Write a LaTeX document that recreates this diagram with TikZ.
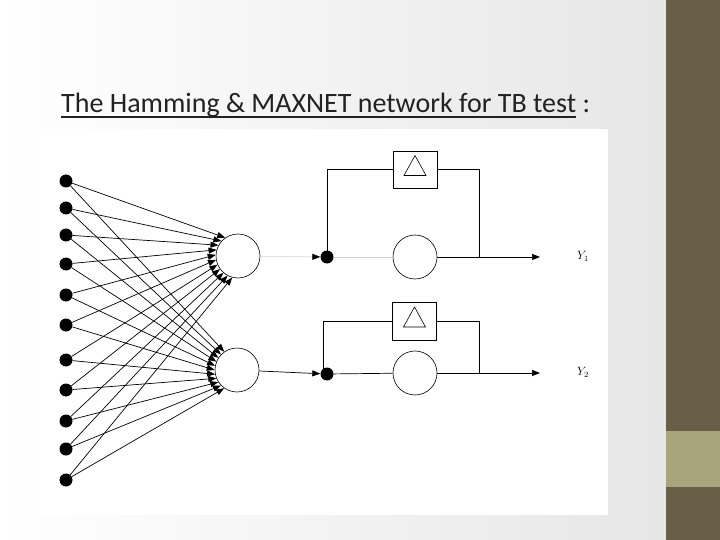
\documentclass[tikz,border=0pt]{standalone}
\usepackage{fontspec}
\setmainfont{Carlito}
\usetikzlibrary{arrows.meta}
\definecolor{bardark}{HTML}{675F48}
\definecolor{barlight}{HTML}{A8A57D}
\definecolor{bgedge}{HTML}{E6E6E6}
\definecolor{titlecol}{HTML}{222222}
\begin{document}
\begin{tikzpicture}[x=1pt,y=-1pt,
  inp/.style={circle,fill=black,inner sep=0pt,minimum size=13pt},
  neuron/.style={circle,draw,line width=0.6pt,inner sep=0pt,minimum size=44pt},
  junc/.style={circle,fill=black,inner sep=0pt,minimum size=13pt},
  delay/.style={draw,line width=0.6pt,minimum width=44pt,minimum height=37pt,inner sep=0pt},
  wire/.style={line width=0.7pt},
  arr/.style={wire,-{Triangle[length=8pt,width=6pt]}},
  faint/.style={line width=0.5pt,black!18},
  lab/.style={font=\fontsize{12}{14}\selectfont,inner sep=0pt},
  ttl/.style={anchor=base west,inner sep=0pt,font=\fontsize{28}{33}\selectfont,text=titlecol}
]
% background
\useasboundingbox (0,0) rectangle (720,540);
\shade[left color=white,right color=bgedge] (0,0) rectangle (666,540);
\fill[white] (40,129) rectangle (608,515);
\fill[bardark] (666,0) rectangle (720,540);
\fill[barlight] (666,431) rectangle (720,487);
% title
\node[ttl] (title) at (61,113) {The Hamming \& MAXNET network for TB test};
\node[ttl] (colon) at ([xshift=6pt]title.base east) {:};
\draw[titlecol,line width=1.4pt] ([yshift=-4pt]title.base west) -- ([yshift=-4pt]title.base east);
% inputs
\foreach \i/\y in {1/181,2/208,3/235,4/264,5/295,6/325,7/360,8/390,9/421,10/449,11/480}
  \node[inp] (x\i) at (66,\y) {};
% hidden neurons
\node[neuron] (h1) at (238,256) {};
\node[neuron] (h2) at (237,370) {};
\foreach \i in {1,...,11} {
  \pgfmathsetmacro{\aone}{125+(\i-1)*13}
  \pgfmathsetmacro{\atwo}{125+(\i-1)*11}
  \draw[arr] (x\i) -- (h1.\aone);
  \draw[arr] (x\i) -- (h2.\atwo);
}
% junctions, delays, output neurons
\node[junc] (j1) at (327,257) {};
\node[junc] (j2) at (327,374) {};
\node[neuron] (m1) at (415,257) {};
\node[neuron] (m2) at (415,373) {};
\node[delay] (d1) at (415,169.5) {};
\node[delay,minimum height=38pt] (d2) at (414.5,321) {};
\draw[line width=0.6pt] ([xshift=-11pt,yshift=-6pt]d1.center) -- ([xshift=11pt,yshift=-6pt]d1.center) -- ([yshift=14pt]d1.center) -- cycle;
\draw[line width=0.6pt] ([xshift=-11pt,yshift=-6pt]d2.center) -- ([xshift=11pt,yshift=-6pt]d2.center) -- ([yshift=14pt]d2.center) -- cycle;
\coordinate (t1) at (479,257);
\coordinate (t2) at (479,373);
\coordinate (e1) at (540,257);
\coordinate (e2) at (540,373);
% row 1
\draw[faint,-{Triangle[length=8pt,width=6pt,black]}] (h1) -- (j1);
\draw[faint] (j1) -- (m1);
\draw[wire] (j1.center) |- (d1.west);
\draw[wire] (d1.east) -| (t1);
\draw[arr] (m1) -- (e1);
% row 2
\draw[arr] (h2) -- (j2);
\draw[wire] (j2) -- (m2);
\draw[line width=0.45pt] ([xshift=-4pt]j2.center) |- (d2.west);
\draw[wire] (d2.east) -| (t2);
\draw[arr] (m2) -- (e2);
% labels
\node[lab] (y1) at (583,256) {$Y_1$};
\node[lab] (y2) at (583,372) {$Y_2$};
\end{tikzpicture}
\end{document}
